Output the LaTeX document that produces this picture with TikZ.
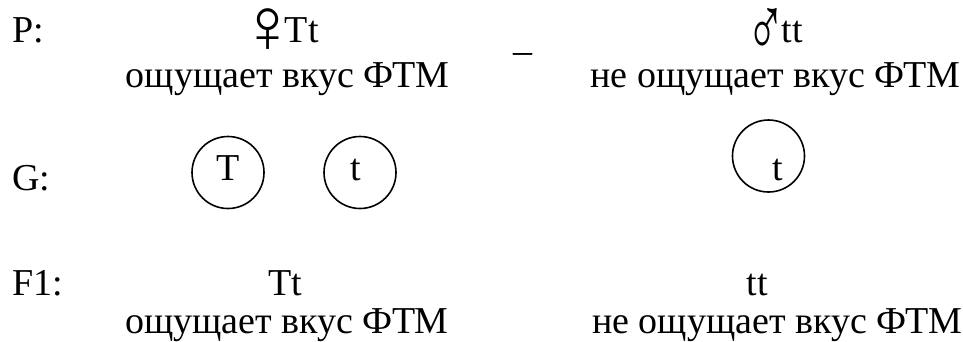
\documentclass[tikz,border=0pt]{standalone}
\usepackage{fontspec}
\setmainfont{Liberation Serif}
\newcommand{\venussym}{\hspace{-10.5pt}\smash{\raisebox{-10pt}{\scalebox{2.0}[2.05]{♀}}}\hspace{-12pt}}
\newcommand{\marssym}{\hspace{-8.5pt}\smash{\raisebox{-14pt}{\scalebox{1.38}[2.25]{♂}}}\hspace{-4pt}}
\begin{document}
\begin{tikzpicture}[x=1pt,y=1pt,
  txt/.style={inner sep=0pt, anchor=base, font=\fontsize{38}{44}\selectfont},
  lbl/.style={txt, anchor=base west},
  gam/.style={circle, draw, line width=1.6pt, minimum size=72pt, inner sep=0pt}]
\useasboundingbox (0,0) rectangle (963,-341);
% P row
\node[lbl] (P) at (12,-42) {P:};
\node[txt] (pf) at (284.5,-42) {\venussym Tt};
\node[txt] (pfd) at (287.5,-87) {ощущает вкус ФТМ};
\node[txt] (cross) at (523,-50) {\_};
\node[txt] (pm) at (779,-42) {\marssym tt};
\node[txt] (pmd) at (775.5,-87) {не ощущает вкус ФТМ};
% G row
\node[lbl] (G) at (12,-190) {G:};
\node[gam] (g1) at (228,-172.5) {};
\node[txt] (g1t) at (228.5,-180) {T};
\node[gam] (g2) at (360,-172.5) {};
\node[txt] (g2t) at (356,-180) {t};
\node[gam] (g3) at (768.5,-156) {};
\node[txt] (g3t) at (778,-180) {t};
% F1 row
\node[lbl] (F) at (12,-295) {F1:};
\node[txt] (f1) at (285,-295) {Tt};
\node[txt] (f1d) at (287,-333) {ощущает вкус ФТМ};
\node[txt] (f2) at (757,-295) {tt};
\node[txt] (f2d) at (777,-333) {не ощущает вкус ФТМ};
\end{tikzpicture}
\end{document}
